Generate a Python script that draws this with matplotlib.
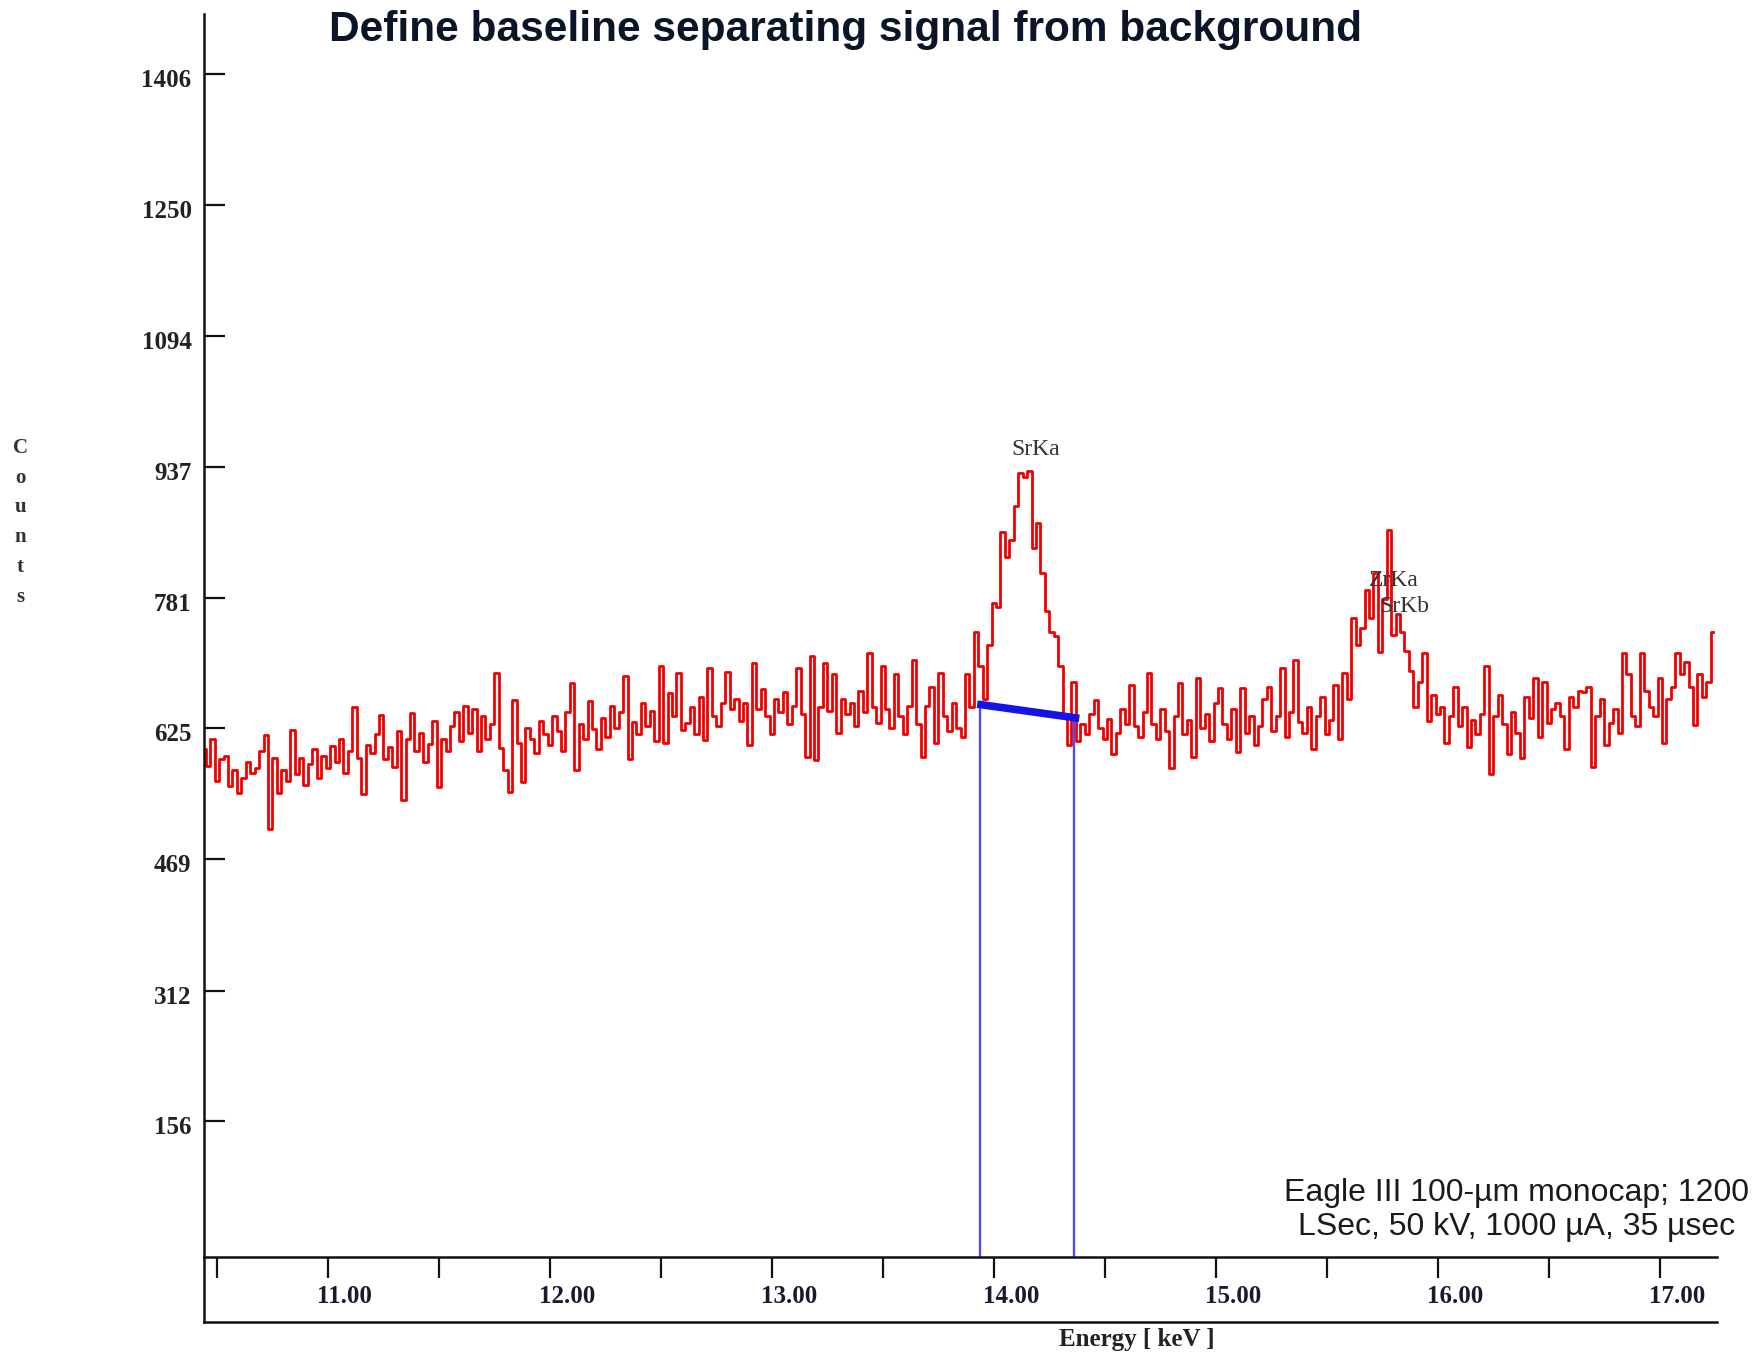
import numpy as np
import matplotlib
matplotlib.use("Agg")
import matplotlib.pyplot as plt
from matplotlib.transforms import ScaledTranslation

# spectrum in 20 eV channels, first channel at 10.44 keV
first_channel_kev = 10.44
channel_width_kev = 0.02

counts_10 = [600, 580, 612, 562, 588, 592, 556, 575, 548, 566,
             585, 572, 578, 598, 617, 505, 590, 548, 575, 562,
             623, 570, 590, 558, 582, 600, 566, 592, 578, 604,
             585, 612, 572, 598, 650, 590, 547, 605, 596, 618,
             641, 588, 603, 579, 622, 539, 612, 643, 598, 620]
counts_11 = [585, 606, 634, 555, 612, 598, 628, 645, 610, 652,
             620, 648, 598, 640, 612, 630, 691, 602, 575, 549,
             659, 608, 561, 625, 612, 596, 634, 618, 605, 640,
             622, 598, 645, 679, 575, 630, 612, 658, 624, 600,
             638, 615, 652, 626, 644, 687, 589, 633, 618, 655]
counts_12 = [628, 646, 610, 700, 608, 667, 640, 691, 623, 632,
             650, 618, 662, 611, 697, 640, 628, 655, 692, 648,
             660, 634, 655, 605, 703, 648, 672, 640, 618, 660,
             645, 668, 630, 652, 697, 642, 591, 712, 587, 650,
             703, 646, 690, 619, 660, 642, 655, 628, 670, 645]
counts_13 = [715, 650, 632, 700, 648, 625, 690, 640, 618, 652,
             707, 630, 591, 652, 675, 608, 691, 640, 622, 655,
             625, 615, 690, 650, 740, 700, 660, 725, 775, 770,
             860, 830, 850, 890, 930, 925, 932, 840, 870, 810,
             765, 740, 735, 700, 640, 605, 680, 610, 630, 618]
counts_14 = [642, 659, 625, 612, 636, 595, 620, 648, 630, 677,
             628, 615, 645, 691, 630, 612, 648, 622, 578, 640,
             679, 618, 635, 591, 685, 625, 642, 610, 655, 673,
             630, 612, 648, 597, 673, 620, 640, 605, 628, 660,
             675, 622, 640, 697, 615, 645, 707, 633, 620, 650]
counts_15 = [601, 640, 662, 618, 635, 677, 612, 691, 660, 757,
             724, 745, 790, 757, 810, 716, 780, 862, 736, 762,
             740, 717, 694, 650, 680, 715, 634, 665, 642, 650,
             608, 640, 675, 628, 650, 603, 635, 618, 642, 700,
             571, 640, 665, 630, 595, 645, 620, 590, 662, 638]
counts_16 = [685, 615, 680, 632, 648, 655, 640, 600, 662, 650,
             670, 668, 675, 579, 640, 660, 605, 632, 648, 620,
             715, 690, 640, 628, 715, 670, 650, 640, 685, 608,
             660, 675, 715, 690, 704, 675, 629, 690, 662, 680,
             740]

peak_names = ["SrKa", "ZrKa", "SrKb"]
peak_label_kev = [14.19, 15.80, 15.85]
peak_label_counts = [958, 802, 771]

roi_kev = [13.94, 14.36]
baseline_kev = [13.925, 14.385]
baseline_counts = [654, 637]

y_tick_values = [156, 312, 469, 625, 781, 937, 1094, 1250, 1406]
x_major_ticks = [11, 12, 13, 14, 15, 16, 17]
x_minor_ticks = [10.5, 11.5, 12.5, 13.5, 14.5, 15.5, 16.5]

counts = np.array(counts_10 + counts_11 + counts_12 + counts_13
                  + counts_14 + counts_15 + counts_16)
energy = first_channel_kev + channel_width_kev * np.arange(len(counts))

serif = "Liberation Serif"
sans = "Liberation Sans"

fig = plt.figure(figsize=(17.65, 13.53), dpi=100)
ax = fig.add_axes([0.1156, 0.0710, 0.8572, 0.9187])

ax.plot(energy, counts, drawstyle="steps-mid", color="#f20000", lw=2.0)

# region of interest and background baseline
roi_top = np.interp(roi_kev, baseline_kev, baseline_counts)
for xk, top in zip(roi_kev, roi_top):
    ax.plot([xk, xk], [-6, top], color="#4b4bff", lw=1.7)
ax.plot(baseline_kev, baseline_counts, color="#1414e6", lw=5.5,
        solid_capstyle="butt")

for name, xk, yc in zip(peak_names, peak_label_kev, peak_label_counts):
    ax.text(xk, yc, name, ha="center", va="center", family=serif,
            fontsize=17, color="#333333")

ax.set_xlim(10.442, 17.258)
ax.set_ylim(-6, 1478)

for side in ["top", "right"]:
    ax.spines[side].set_visible(False)
for side in ["left", "bottom"]:
    ax.spines[side].set_linewidth(1.8)
    ax.spines[side].set_color("#111111")

ax.set_yticks(y_tick_values)
ax.set_yticklabels([str(v) for v in y_tick_values])
ax.tick_params(axis="y", direction="in", length=15, width=1.6, pad=9,
               colors="#111111", labelsize=18, labelcolor="#222222")
for lbl in ax.get_yticklabels():
    lbl.set_family(serif)
    lbl.set_fontweight("bold")
    lbl.set_transform(lbl.get_transform()
                      + ScaledTranslation(0, -0.04, fig.dpi_scale_trans))

ax.set_xticks(x_major_ticks)
ax.set_xticklabels([f"{v:.2f}" for v in x_major_ticks])
ax.set_xticks(x_minor_ticks, minor=True)
ax.tick_params(axis="x", which="both", direction="out", length=15,
               width=1.6, colors="#111111")
ax.tick_params(axis="x", which="major", pad=5, labelsize=18,
               labelcolor="#1a1a2e")
for lbl in ax.get_xticklabels():
    lbl.set_family(serif)
    lbl.set_fontweight("bold")
    lbl.set_transform(lbl.get_transform()
                      + ScaledTranslation(0.17, 0, fig.dpi_scale_trans))

# box under the energy axis
box_y = -0.0523
ax.plot([0, 0], [0, box_y], transform=ax.transAxes, color="#111111",
        lw=1.8, clip_on=False)
ax.plot([0, 1], [box_y, box_y], transform=ax.transAxes, color="#111111",
        lw=1.8, clip_on=False)

fig.text(0.644, 0.010, "Energy [ keV ]", ha="center", va="center",
         family=serif, fontweight="bold", fontsize=18, color="#222222")
fig.text(0.0115, 0.614, "C\no\nu\nn\nt\ns", ha="center", va="center",
         family=serif, fontweight="bold", fontsize=15, linespacing=1.65,
         color="#333333")

fig.text(0.479, 0.978, "Define baseline separating signal from background",
         ha="center", va="center", family=sans, fontweight="bold",
         fontsize=30.5, color="#0a1628")
fig.text(0.859, 0.1057,
         "Eagle III 100-\u00b5m monocap; 1200\nLSec, 50 kV, 1000 \u00b5A, 35 \u00b5sec",
         ha="center", va="center", family=sans, fontsize=23,
         linespacing=1.15, color="#1a1a1a")

fig.savefig("out.png", dpi=100)
